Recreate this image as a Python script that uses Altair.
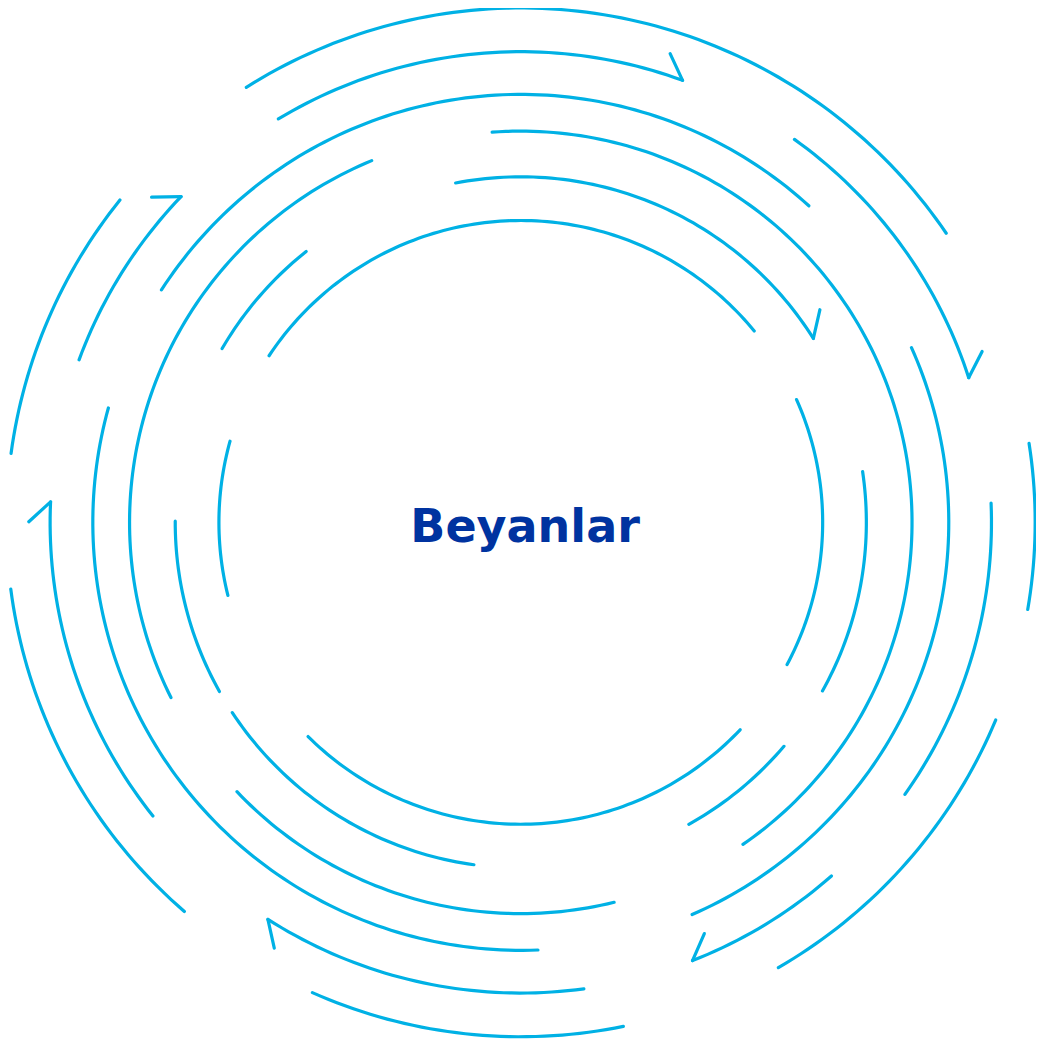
import numpy as np
import pandas as pd
import altair as alt

# ring radii (px, from the common centre)
ring_radius = [304, 348, 394, 431, 474, 518]

# arcs: ring index, start angle, end angle (degrees, counter-clockwise from east)
arc_ring = [0, 0, 0, 0,
            1, 1, 1, 1, 1, 1,
            2, 2, 2,
            3, 3, 3,
            4, 4, 4, 4, 4, 4, 4,
            5, 5, 5, 5, 5, 5]
arc_start = [39.35, 164.4, 225.2, -28.1,
             32.15, 128.4, 179.8, 213.4, -29.2, -60.9,
             -55.4, 223.5, 112.4,
             47.7, -66.4, 164.5,
             69.9, 17.9, -35.3, -68.6, 237.5, 177.5, 136.2,
             34.2, 141.2, 187.45, 246.1, -59.95, -9.75]
arc_end = [146.5, 194.0, 316.6, 24.0,
           100.87, 149.8, 209.3, 262.2, 8.45, -40.4,
           94.2, 283.8, 206.6,
           147.1, 24.1, 272.3,
           121.0, 54.45, 2.36, -48.7, 277.7, 218.6, 159.8,
           122.25, 172.3, 229.15, 281.5, -22.6, 8.83]
# arrow barb at the start end: 1 = barb on outer side, -1 = inner side, 0 = none
arc_arrow = [0, 0, 0, 0,
             1, 0, 0, 0, 0, 0,
             0, 0, 0,
             0, 0, 0,
             1, 1, 0, -1, 1, 1, 1,
             0, 0, 0, 0, 0, 0]

label = "Beyanlar"

CYAN = "#00b1e5"
NAVY = "#0033a0"
BARB = 21

rows = []
for i, (ri, a0, a1, arr) in enumerate(zip(arc_ring, arc_start, arc_end, arc_arrow)):
    r = ring_radius[ri]
    n = int(np.ceil(abs(a1 - a0))) + 1
    th = np.radians(np.linspace(a0, a1, n))
    for k, t in enumerate(th):
        rows.append({"seg": f"a{i}", "k": k, "x": r * np.cos(t), "y": r * np.sin(t)})
    if arr:
        t = np.radians(a0)
        tx, ty = r * np.cos(t), r * np.sin(t)
        bx = tx - BARB * np.sin(t) + arr * BARB * np.cos(t)
        by = ty + BARB * np.cos(t) + arr * BARB * np.sin(t)
        rows.append({"seg": f"b{i}", "k": 0, "x": tx, "y": ty})
        rows.append({"seg": f"b{i}", "k": 1, "x": bx, "y": by})
df = pd.DataFrame(rows)

# the view: 1028 x 1032 px (fits the window without shrinking)
xs = alt.Scale(domain=[-516.41, 518.84], nice=False, zero=False)
ys = alt.Scale(domain=[-521.29, 517.99], nice=False, zero=False)

lines = alt.Chart(df).mark_line(
    color=CYAN, strokeWidth=3.2, strokeCap="round", strokeJoin="round"
).encode(
    x=alt.X("x:Q", scale=xs, axis=None),
    y=alt.Y("y:Q", scale=ys, axis=None),
    detail="seg:N",
    order="k:Q",
)

text = alt.Chart(pd.DataFrame({"x": [0], "y": [0], "t": [label]})).mark_text(
    font="DejaVu Sans", fontWeight="bold", fontSize=46, color=NAVY,
    align="center", baseline="alphabetic", dx=4.3, dy=19.7
).encode(
    x=alt.X("x:Q", scale=xs, axis=None),
    y=alt.Y("y:Q", scale=ys, axis=None),
    text="t:N",
)

chart = alt.layer(lines, text).properties(
    width=1028, height=1032, padding=0,
    autosize=alt.AutoSizeParams(type="none"),
).configure_view(stroke=None)

chart.save("out.html", embed_options={"renderer": "svg", "actions": False})
